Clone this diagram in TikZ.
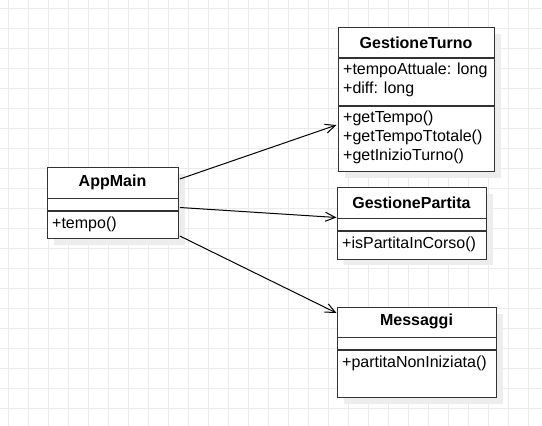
\documentclass[tikz,border=0pt]{standalone}
\usepackage{fontspec}
\setmainfont{Liberation Sans}
\usetikzlibrary{arrows.meta,calc}
\tikzset{
  gridline/.style={draw=black!8, line width=0.9pt},
  classbox/.style={draw=black!80, line width=1.3pt, fill=white, rectangle, inner sep=0pt, anchor=north west},
  shadowbox/.style={fill=black!7, draw=none},
  divider/.style={draw=black!80, line width=1.3pt},
  title/.style={font=\fontsize{16}{19}\selectfont\bfseries, inner sep=0pt, anchor=center},
  member/.style={font=\fontsize{16}{19}\selectfont, inner sep=0pt, anchor=west},
  dep/.style={draw=black, line width=1pt, -{Straight Barb[length=10pt,width=9pt,line width=1pt]}}
}
\begin{document}
\begin{tikzpicture}[x=1pt,y=-1pt]
\useasboundingbox (0,0) rectangle (542,426);
\fill[white] (0,0) rectangle (542,426);
% grid
\foreach \g in {8,28,...,548} {\draw[gridline] (\g,0) -- (\g,426);}
\foreach \g in {8,28,...,428} {\draw[gridline] (0,\g) -- (542,\g);}
% shadows
\fill[shadowbox] (345,34) rectangle (501,178);
\fill[shadowbox] (54,174) rectangle (185,245);
\fill[shadowbox] (344,194) rectangle (493,265);
\fill[shadowbox] (344,314) rectangle (503,404);
% GestioneTurno
\node[classbox, minimum width=156pt, minimum height=144pt] (gt) at (338,27) {};
\draw[divider] ($(gt.north west)+(0,31)$) -- ($(gt.north east)+(0,31)$);
\draw[divider] ($(gt.north west)+(0,79)$) -- ($(gt.north east)+(0,79)$);
\node[title] (gtt) at (416,42.5) {GestioneTurno};
\node[member] (gta1) at (343,70) {+tempoAttuale: long};
\node[member] (gta2) at (343,89.3) {+diff: long};
\node[member] (gtm1) at (343,118.3) {+getTempo()};
\node[member] (gtm2) at (343,137.5) {+getTempoTtotale()};
\node[member] (gtm3) at (343,156.7) {+getInizioTurno()};
% AppMain
\node[classbox, minimum width=131pt, minimum height=71pt] (am) at (47,167) {};
\draw[divider] ($(am.north west)+(0,31.5)$) -- ($(am.north east)+(0,31.5)$);
\draw[divider] ($(am.north west)+(0,44)$) -- ($(am.north east)+(0,44)$);
\node[title] (amt) at (112.5,182.7) {AppMain};
\node[member] (amm1) at (52,224) {+tempo()};
% GestionePartita
\node[classbox, minimum width=149pt, minimum height=71.5pt] (gp) at (337,187) {};
\draw[divider] ($(gp.north west)+(0,31.5)$) -- ($(gp.north east)+(0,31.5)$);
\draw[divider] ($(gp.north west)+(0,44)$) -- ($(gp.north east)+(0,44)$);
\node[title] (gpt) at (411.5,202.7) {GestionePartita};
\node[member] (gpm1) at (342,244) {+isPartitaInCorso()};
% Messaggi
\node[classbox, minimum width=159pt, minimum height=89.5pt] (ms) at (337,307) {};
\draw[divider] ($(ms.north west)+(0,30.5)$) -- ($(ms.north east)+(0,30.5)$);
\draw[divider] ($(ms.north west)+(0,43)$) -- ($(ms.north east)+(0,43)$);
\node[title] (mst) at (416.5,321.7) {Messaggi};
\node[member] (msm1) at (342,363.3) {+partitaNonIniziata()};
% connectors
\draw[dep] ($(am.north east)+(0.5,12)$) -- ($(gt.north west)+(-1.5,98)$);
\draw[dep] ($(am.north east)+(0.5,40.5)$) -- ($(gp.north west)+(-0.5,30.5)$);
\draw[dep] ($(am.north east)+(0.5,69)$) -- ($(ms.north west)+(-0.5,6)$);
\end{tikzpicture}
\end{document}
